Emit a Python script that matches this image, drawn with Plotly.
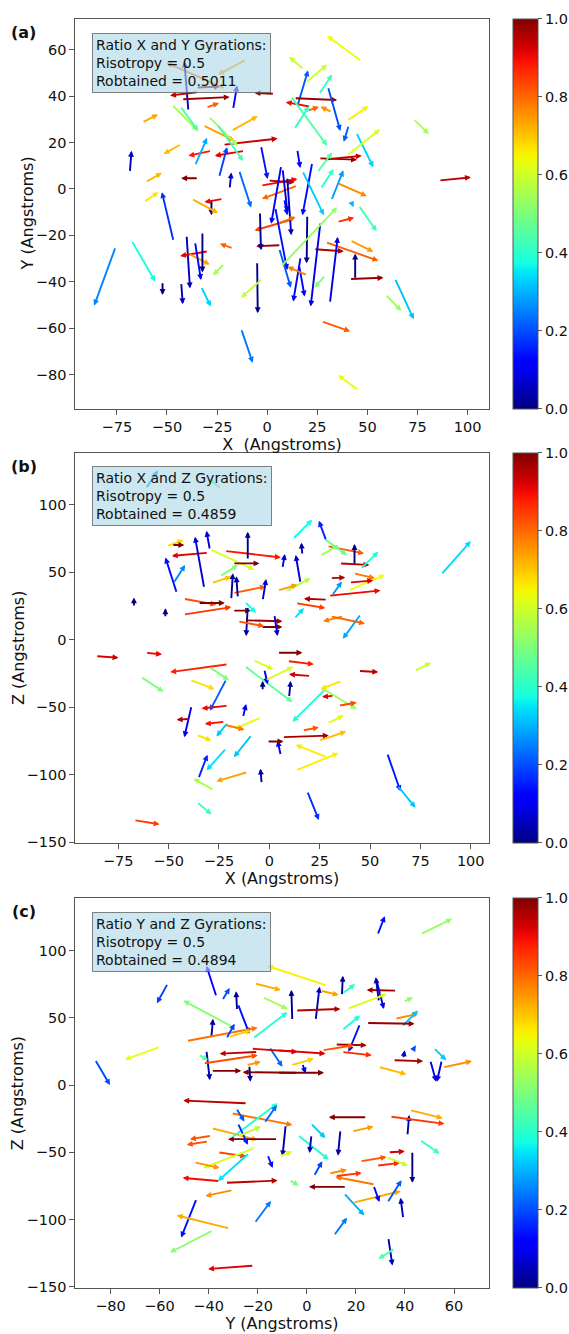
import numpy as np
import plotly.graph_objects as go

# Arrow segments per projection: (x_tail, y_tail, x_head, y_head) in Angstroms
ARROWS_XY = [
    (-21, 43.3, -50.2, 54.4), (-39.3, 33.6, -41.3, 55), (-35.4, 43.7, -23.5, 44.1),
    (-34.4, 41.7, -48.4, 40.3), (-42.6, 38.6, -18.7, 39.6), (-17, 34.3, -15, 44.6),
    (3.6, 41, -6.3, 41.4), (-10.5, 55.7, -24.5, 49.3), (47.2, 55, 29.9, 66),
    (18.4, 51.4, 11, 56.9), (19.2, 45.7, 29.9, 53.6), (15.1, 35.7, 20.4, 51.1),
    (25.8, 40.7, 32.4, 49.3), (13.5, 39.1, 34.9, 38.3), (21.7, 35.4, 9.3, 37.4),
    (20, 33.6, 25.8, 35.4), (32.4, 33.1, 26.6, 35.4), (30.3, 44, 36.5, 25),
    (40.7, 27.4, 38.2, 20.3), (39.8, 29.3, 50.5, 35.7), (72.8, 30.3, 80.7, 23.6),
    (44.4, 24.3, 53, 9.3), (39.8, 14.3, 56.3, 25.7), (25.8, 13.2, 44.8, 12.6),
    (28.3, 12.6, 47.2, 14.3), (85.7, 3.6, 101.6, 5), (34.9, 2.6, 49.7, -3.1),
    (25, 7.1, 32.4, 15.7), (26.6, 0, 33.2, 8.6), (41.8, -5.4, 43.1, -7.9),
    (45.6, -7.1, 54.6, -18.3), (34.9, -14.3, 43.4, -12.4), (41.4, -22.2, 53, -27.1),
    (29.1, -22.9, 55.5, -31), (23.3, -26, 38.2, -26.9), (43.9, -39, 43.9, -27.9),
    (41.1, -38.9, 58, -38.3), (31.3, -49.3, 35.2, -20.7), (26.6, -14.3, 21.7, -50.7),
    (20, -11.4, 19.7, -32.1), (16.7, -29.3, 13, -48.6), (15.9, -32.9, 18.7, -46.4),
    (29.1, -37.2, 23.6, -42.6), (63.7, -38.6, 73.1, -56.2), (58.8, -45.4, 67, -52.6),
    (27.1, -57.1, 41.4, -61.4), (45.6, -86.9, 35.4, -80.3), (20, -37.2, 10.1, -33.6),
    (-75.6, -25, -86.3, -50.3), (-67.7, -22.2, -55.8, -40), (-52.2, -40, -52.2, -45.7),
    (-42.9, -40.4, -42.1, -49.7), (-40.2, -20, -38.5, -42.9), (-29.4, -26.9, -43.4, -28.9),
    (-39.3, -27.9, -28.6, -32.6), (-33, -42.1, -28.1, -50.7), (-46.7, -22.6, -52.5, -1.4),
    (-13, -60.3, -7.2, -75), (-5, -31.4, -4.7, -53.6), (-2.2, -38.6, -13, -46.9),
    (-17, -25.7, -23.6, -23.6), (-21.2, -32.1, -27, -37.2), (6.8, -24.3, -5.5, -24.7),
    (13.5, -12.9, -6.3, -17.9), (-62.4, 28.6, -54.5, 32.1), (-68.5, 7.1, -67.7, 16.4),
    (-42.9, 19.3, -51.7, 15), (-60.7, 2.9, -52.5, 6.9), (-61.6, -5.7, -54.2, -1.4),
    (-34.4, 4.6, -42.9, 4.6), (-47.6, 36.4, -34.4, 25), (-31.9, 27.4, -16.2, 20.7),
    (-17.9, 25, -4.7, 31.4), (-22, 19, 5.2, 21.7), (-11.3, 16.4, -26.1, 14.3),
    (-27.8, 16.4, -39.3, 14.3), (-3.1, 18.6, 0.2, 4.3), (-18.7, 0, -17.9, 7.1),
    (-29.4, 31.4, -14.6, 18.6), (-43.4, 35.7, -34.4, 25), (-30.5, 35, -24, 37),
    (-27.8, -4.3, -27.8, -11.4), (-3.1, 1.4, 15.1, 4.3), (15.1, 1.4, -2.6, -4.3),
    (0.5, 3.6, 13.5, 2.8), (-22.1, -4.3, -31.3, -5.7), (-37.7, -4.3, -24.5, -10.4),
    (7, 10, 2, -15), (10, 5, 12, -20), (4, -8, 10, -35),
    (6, -25.7, 11.8, -42.6), (8.5, -4.3, 10.1, -11.4), (5.2, -15, 14.2, -12.1),
    (6.8, -33.6, 34.9, -7.9), (-36, -22.8, -33, -39.3), (-32.3, -18.6, -32.3, -36),
    (-3.6, -10, -3.1, -26.4), (7.7, 8.6, 10.1, -10), (22.5, 11.4, 17.6, -11.4),
    (17.6, 7.8, 28.3, -11.4), (11.8, 40, 29.9, 18.6), (13.5, 25.7, 20.9, 35.7),
    (15, 17, 16.5, 9), (-25, 28, -12, 12), (-14, 8, -8, -8),
    (-36, 10, -30, 22), (-24, 5, -20, 18), (32, -5, 38, 8),
]

ARROWS_XZ = [
    (-61.4, 111.9, -55.3, 125.4), (-23.8, 111.9, -30.3, 119.2), (-67.2, 24.3, -67.2, 31.4),
    (-51.6, 16.4, -51.6, 23.3), (-50.9, 69.4, -42.6, 73.9), (-48.4, 70.2, -42.2, 70.2),
    (-30.3, 64.5, -48.4, 62.1), (-45.9, 34.5, -51.6, 61), (-47.6, 41.9, -41.8, 55.4),
    (-32.3, 38.2, -36.9, 76.3), (-29.5, 66.5, -31.2, 80.7), (-29.5, 67.2, -7.4, 51.8),
    (-22.1, 65.8, 5.7, 61), (-18.1, 56.6, -4.9, 56.6), (-10.7, 59.1, -10.7, 80),
    (-18.1, 34.5, -1.7, 39.5), (-42.6, 30.4, -26.3, 26), (-42.6, 18.6, -18.9, 24.2),
    (-18.1, 21.6, -9.1, 21.6), (-10.7, 24.7, -11.5, 2.7), (-11.5, 14.4, 6.5, 13.7),
    (-4.1, 9.5, 6.5, 9.5), (2.5, 18.6, 4.1, 2.7), (11.5, 74.3, 21.3, 89),
    (28.3, 73.3, 24.6, 88.1), (28.7, 69.4, 47, 64), (42.3, 54.7, 42.3, 70.9),
    (34.9, 56.6, 49.7, 55.4), (45.1, 52.2, 54.1, 65.2), (16.4, 62.8, 15.9, 71.9),
    (6.5, 52.9, 7.7, 63.5), (15.5, 41.9, 13.1, 62.8), (39.3, 36.5, 57.4, 48.1),
    (29.5, 32.6, 55.2, 36.5), (28.7, 29.7, 17.2, 30.4), (45.5, 19.1, 36.5, 0.7),
    (85.2, 48.1, 100, 73.1), (4.1, -9.6, 16.4, -9.6), (-86.1, -12.1, -74.9, -13.3),
    (-61.4, -9.6, -53.3, -10.8), (-63.9, -27.3, -52.5, -38.6), (-20.5, -18.2, -49.2, -23.9),
    (-39.4, -29.7, -27.1, -36.6), (-21.3, -29.2, -29.5, -52.6), (-38.6, -48.9, -42.2, -72.2),
    (-20.5, -48.9, -33.6, -50.9), (-39.4, -58.7, -46, -59.2), (-22.1, -60.7, -32, -62.4),
    (-20.5, -61.2, -26.3, -71.7), (-4.1, -57.5, -17.2, -66.1), (-36.1, -70.5, -28.7, -74.7),
    (-35.2, -102.9, -30.7, -85.2), (-21.3, -80.3, -31.2, -96.8), (-8.7, -70.5, -17.6, -87),
    (-10.7, -98, -26.3, -104.9), (-3.8, -106.6, -4.4, -95.5), (-27.4, -111.5, -37.7, -102.9),
    (-36.1, -120.1, -28.7, -129.4), (-67.2, -133.6, -54.5, -136.7), (5.7, -85.7, 4.1, -74.7),
    (-1.1, -75.4, 7, -75.4), (-12.3, -19.4, 11.5, -46.2), (44.3, -23.1, 54.1, -23.9),
    (72.1, -23.1, 80.3, -17), (9, -15.8, 22.1, -18.2), (20.5, -26.8, 9.8, -25.6),
    (9.8, -42.8, 10.6, -30.5), (28.7, -35.4, 11.5, -60.7), (25.4, -35.4, 43.4, -51.3),
    (34.4, -48.9, 43.4, -46.5), (16.4, -67.3, 24.6, -64.9), (6.5, -72.2, 29.5, -71),
    (24.6, -74.7, 38.2, -68), (13.1, -96.8, 34.4, -84), (28.7, -87, 13.1, -77.8),
    (18.8, -112.2, 24.6, -133.6), (58.5, -84, 65.1, -112.2), (63.5, -107.8, 72.6, -124.5),
    (-24.6, 46.8, -15.6, 55.4), (-28.7, 41.9, -18.9, 46.8), (-18.9, 29.7, -18.1, 49.3),
    (-15.6, 31, -16.4, 47), (-3.3, 29, -1.6, 45), (25.1, 62.1, 34.4, 70.2),
    (27.1, 75, 38.5, 62.8), (41.8, 49.3, 52.4, 45.6), (39.8, 42.4, 51.6, 43.9),
    (30.3, 45.6, 37.7, 46.1), (8.2, 35.8, 20.5, 45.6), (4.1, 36.5, 13.9, 40.7),
    (13.1, 27.2, 27.8, 23.5), (36.9, 17.4, 26.7, 13.7), (30.3, 17.4, 47.5, 12),
    (31.1, 32.6, 36, 43.2), (12.3, 15.4, 17.2, 23.5), (36, -30.5, 25.4, -36.6),
    (28.7, -61.9, 36.9, -56.2), (32, -41.5, 26.2, -42.3), (-2.5, -21.9, -0.8, -32.9),
    (-13.1, -57.5, -11.5, -47.6), (-3.3, -37.8, -3.3, -30.5), (-22.1, -63.1, -12.3, -66.6),
    (-35.3, 27.2, -22.1, 27.2), (-12.3, 28.4, -6.6, 19.8), (-15.6, 13.7, -2.5, 10),
    (-30, -20, -20, -30), (-2, -30, 12, -20), (-8, -15, 2, -22),
]

ARROWS_YZ = [
    (-56.6, 75.7, -61.1, 60.9), (-86.3, 19, -80.2, 0), (-59.7, 28.4, -74.1, 19),
    (-36.8, 65.8, -40.9, 88.8), (-34.5, 62.9, -31.4, 72.3), (-30.1, 43.2, -50.3, 62.9),
    (-38.9, 35.3, -38.2, 49.3), (-28.1, 60.4, -23.4, 38.2), (-49, 32.8, -20, 42.7),
    (-22, 34.5, -7.9, 54.3), (-5.9, 48.1, -6.3, 70.8), (-18, 65.4, -7.9, 56.7),
    (-21.3, 75.7, -10.6, 70.8), (8.3, 74, -16.2, 88.8), (-40.9, 25.9, -39.5, 3.7),
    (-42.2, 16.1, -20, 22.2), (-20, 24.7, -35.5, 23.4), (-38.9, 10.6, -26.7, 10.6),
    (-3.8, 9.2, -26.1, 9.6), (-24.3, -13.5, -50.3, -11.5), (-30.8, -20.9, -5.9, -29.6),
    (-38.9, -32, -20, -40.7), (-38.9, -37.7, -47.6, -40.2), (-40.1, -41.9, -48.9, -44.4),
    (-11.9, -40.2, -32.1, -40.2), (-36.2, -50, -24.7, -53), (-21.3, -46.8, -42.2, -61.6),
    (-45.9, -57.4, -35.5, -61.6), (-23.4, -50.5, -36.2, -71.4), (-35.5, -71.4, -50.6, -69),
    (-33.1, -72.7, -11.9, -71), (-30.1, -78.1, -41.3, -82.5), (-44.9, -84.5, -51.2, -113.4),
    (-31.4, -106.7, -53, -96.9), (-38.2, -108, -55.7, -124.5), (-21.6, -134.3, -40.2, -136.8),
    (-21.3, -102.8, -14.6, -86.2), (-8.6, -29.6, -9.9, -53), (28.8, 111.7, 31.8, 125.7),
    (46.3, 112.2, 59.2, 123.8), (14.3, 66.6, 14.7, 81.4), (36.6, 70.3, 24.4, 70.8),
    (28.1, 80.2, 31.4, 56.7), (29.4, 62, 28.1, 80.2), (5.6, 70.3, 13, 67.1),
    (3.6, 48.1, 5.2, 73.2), (-4.5, 55.5, 13.7, 56.7), (16.4, 56.7, 32.5, 67.8),
    (35.9, 49.3, 45.3, 53), (38.6, 43.2, 45.3, 55.5), (24.4, 46.2, 43.9, 45.6),
    (21.7, 45.6, 17, 24.7), (11.6, 30.3, 24.4, 29.6), (-11.9, 25.9, 7.6, 23.4),
    (35.2, 18.5, 47.4, 17.8), (51.6, 27.9, 56.8, 18.5), (50.3, 18.5, 52.7, 2.5),
    (55, 18.5, 53, 2.5), (55.4, 13.1, 67.3, 17.8), (29.2, 13.6, 40.6, 8.1),
    (-11.9, 9.2, 7, 9.2), (33.2, -113.4, 34.9, -134.3), (35.9, -121.5, 29.2, -129.4),
    (11, -112.1, 16.4, -98.6), (15, -80.1, 23.4, -96.9), (18.8, -87.5, 38.2, -78.9),
    (32.8, -87.5, 38.6, -70.7), (27.2, -74.7, 29.6, -87), (39.3, -99.3, 38.2, -83.8),
    (16.1, -75.7, 0.9, -75.7), (27.8, -74, 11.6, -68.3), (43, -49.3, 43, -72.7),
    (41, -37.7, 41.7, -22.2), (33.9, -23.4, 56.1, -28.8), (24.4, -23.9, 9, -23.9),
    (13.7, -33.3, 12.7, -52.5), (-3.8, -37, 9, -55.5), (11.6, -67.8, 22.4, -65.3),
    (28.5, -59.9, 37.9, -57.9), (21.7, -56.7, 32.5, -53.5), (32.5, -53.5, 41.2, -59.9),
    (33.2, -50, 39.9, -49.3), (46, -40.7, 54.1, -51), (41.9, -18.5, 55.4, -24.6),
    (18.4, -34.5, 27.2, -30.8), (1.5, -28.3, 7.6, -39.4), (1.9, -37, 1.1, -50.5),
    (2.9, -67.8, 6.3, -56.7), (9, -65.8, 16.4, -62.9), (-7.2, -70.7, -3.2, -74.7),
    (39.3, 19.7, 39.9, 25.9), (43.6, 27.1, 44.4, 29.6), (39.3, 61.7, 43.3, 65.4),
    (14.3, 40.7, 21.7, 51.8), (6.3, 25.9, 19.1, 29.6), (14.3, 24.7, 26.5, 22.2),
    (-1.8, 16.1, -0.5, 8.7), (-6.5, 14.8, 2.9, 19.7), (-44.2, 22.9, -40.2, 18.5),
    (-32.1, 35.8, -22.7, 40.7), (-32.8, 34.5, -29.4, 45.6), (-24.7, 14.8, -18.7, 17.3),
    (-23.4, 14.8, -23, 2.5), (-15.3, 28.4, -9.9, 13.6), (-22.6, 27.1, -3.8, 24.7),
    (-30.8, -39.4, -11.9, -13.5), (-28.1, -28.3, -24, -44.4), (-28.8, -17.2, -25.4, -27.1),
    (-11.2, -53, -5.9, -49.3), (-16, -51.8, -13.9, -61.6), (-17.3, -28.3, -12.2, -14.8),
    (-28.1, -38.2, -18.7, -30.8), (-28.4, 55.5, -28.8, 69.8), (14.3, 67.8, 19.7, 75.2),
]

PANEL_LABELS = ["(a)", "(b)", "(c)"]
BOX_TEXT = [
    ["Ratio X and Y Gyrations:", "Risotropy = 0.5", "Robtained = 0.5011"],
    ["Ratio X and Z Gyrations:", "Risotropy = 0.5", "Robtained = 0.4859"],
    ["Ratio Y and Z Gyrations:", "Risotropy = 0.5", "Robtained = 0.4894"],
]
X_TITLES = ["X\u00a0 (Angstroms)", "X (Angstroms)", "Y (Angstroms)"]
Y_TITLES = ["Y (Angstroms)", "Z (Angstroms)", "Z (Angstroms)"]
X_TICKS = [[-75, -50, -25, 0, 25, 50, 75, 100],
           [-75, -50, -25, 0, 25, 50, 75, 100],
           [-80, -60, -40, -20, 0, 20, 40, 60]]
Y_TICKS = [[-80, -60, -40, -20, 0, 20, 40, 60],
           [-150, -100, -50, 0, 50, 100],
           [-150, -100, -50, 0, 50, 100]]
X_RANGES = [[-95.7, 110.5], [-96.3, 108.9], [-94.3, 74.1]]
Y_RANGES = [[-94.7, 73.3], [-150.3, 138.7], [-150.9, 139.3]]
CBAR_TICKS = [0.0, 0.2, 0.4, 0.6, 0.8, 1.0]

W, H = 569, 1334
FONT = "DejaVu Sans"

# matplotlib "jet" segment data
_R = ([0, 0.35, 0.66, 0.89, 1], [0, 0, 1, 1, 0.5])
_G = ([0, 0.125, 0.375, 0.64, 0.91, 1], [0, 0, 1, 1, 0, 0])
_B = ([0, 0.11, 0.34, 0.65, 1], [0.5, 1, 1, 0, 0])


def jet(v):
    r = np.interp(v, *_R)
    g = np.interp(v, *_G)
    b = np.interp(v, *_B)
    return "rgb(%d,%d,%d)" % (round(r * 255), round(g * 255), round(b * 255))


JET_SCALE = [[s, jet(s)] for s in np.linspace(0, 1, 41)]

# pixel layout of each panel: (top, bottom) of plot area, y-title centre x
PANEL_PX = [(19, 411), (455.3, 847.7), (903.3, 1295.7)]
YTITLE_X = [28, 18.5, 18.5]
X_PX = (76, 493)
CB_LEFT = 518

fig = go.Figure()
annotations = []
panels = [ARROWS_XY, ARROWS_XZ, ARROWS_YZ]

for i, arrows in enumerate(panels):
    n = i + 1
    xa = "x" if n == 1 else "x%d" % n
    ya = "y" if n == 1 else "y%d" % n
    top, bot = PANEL_PX[i]
    ydom = [1 - bot / H, 1 - top / H]

    vals = []
    for (x0, y0, x1, y1) in arrows:
        dx, dy = x1 - x0, y1 - y0
        v = np.arctan2(abs(dx), abs(dy)) / (np.pi / 2)
        vals.append(v)
        annotations.append(dict(
            x=x1, y=y1, ax=x0, ay=y0, xref=xa, yref=ya, axref=xa, ayref=ya,
            text="", showarrow=True, arrowhead=2, arrowsize=0.62,
            arrowwidth=1.9, arrowcolor=jet(v), standoff=0, startstandoff=0,
        ))

    # invisible markers carrying the colour values for the colourbar
    fig.add_trace(go.Scatter(
        x=[a[0] for a in arrows], y=[a[1] for a in arrows], mode="markers",
        xaxis=xa, yaxis=ya, showlegend=False, hoverinfo="skip",
        marker=dict(color=vals, coloraxis="coloraxis" if n == 1 else "coloraxis%d" % n,
                    size=2, opacity=0),
    ))

    axis_common = dict(
        showline=True, mirror=True, linecolor="#555555", linewidth=1,
        ticks="outside", ticklen=5, tickcolor="#555555", tickwidth=1,
        showgrid=False, zeroline=False,
        tickfont=dict(family=FONT, size=14.5, color="#111111"),
    )
    fig.layout["xaxis" if n == 1 else "xaxis%d" % n] = dict(
        axis_common, domain=[X_PX[0] / W, X_PX[1] / W], anchor=ya,
        range=X_RANGES[i], tickvals=X_TICKS[i],
        ticktext=[str(t).replace("-", "\u2212") for t in X_TICKS[i]],
        title=dict(text=X_TITLES[i], font=dict(family=FONT, size=16, color="#111111"),
                   standoff=2),
    )
    fig.layout["yaxis" if n == 1 else "yaxis%d" % n] = dict(
        axis_common, domain=ydom, anchor=xa,
        range=Y_RANGES[i], tickvals=Y_TICKS[i],
        ticktext=[str(t).replace("-", "\u2212") for t in Y_TICKS[i]],
    )

    # y-axis title
    annotations.append(dict(
        xref="paper", yref="paper", x=YTITLE_X[i] / W, y=(ydom[0] + ydom[1]) / 2,
        text=Y_TITLES[i], textangle=-90, showarrow=False,
        font=dict(family=FONT, size=16, color="#111111"),
        xanchor="center", yanchor="middle",
    ))

    fig.layout["coloraxis" if n == 1 else "coloraxis%d" % n] = dict(
        cmin=0, cmax=1, colorscale=JET_SCALE,
        colorbar=dict(
            x=CB_LEFT / W, xanchor="left", xpad=0, ypad=0,
            y=(ydom[0] + ydom[1]) / 2, yanchor="middle",
            len=ydom[1] - ydom[0], lenmode="fraction",
            thickness=25, thicknessmode="pixels",
            outlinewidth=1, outlinecolor="#555555",
            ticks="outside", ticklen=4, tickcolor="#555555",
            tickvals=CBAR_TICKS, ticktext=["%.1f" % t for t in CBAR_TICKS],
            tickfont=dict(family=FONT, size=14.5, color="#111111"),
        ),
    )

    # panel letter
    annotations.append(dict(
        xref="paper", yref="paper", x=24 / W, y=1 - (top + 14) / H,
        text="<b>%s</b>" % PANEL_LABELS[i], showarrow=False,
        font=dict(family=FONT, size=16, color="#111111"),
        xanchor="center", yanchor="middle",
    ))
    # info box
    annotations.append(dict(
        xref="paper", yref="paper", x=93 / W, y=1 - (top + 14) / H,
        xanchor="left", yanchor="top", align="left", showarrow=False,
        text="<br>".join(BOX_TEXT[i]),
        font=dict(family=FONT, size=14, color="#111111"),
        bgcolor="rgba(173,216,230,0.62)", bordercolor="rgba(90,90,90,0.75)",
        borderwidth=1, borderpad=3,
    ))

fig.update_layout(
    width=W, height=H, margin=dict(l=0, r=0, t=0, b=0),
    paper_bgcolor="white", plot_bgcolor="white",
    annotations=annotations, showlegend=False,
    font=dict(family=FONT, color="#111111"),
)

fig.write_html("out.html")
